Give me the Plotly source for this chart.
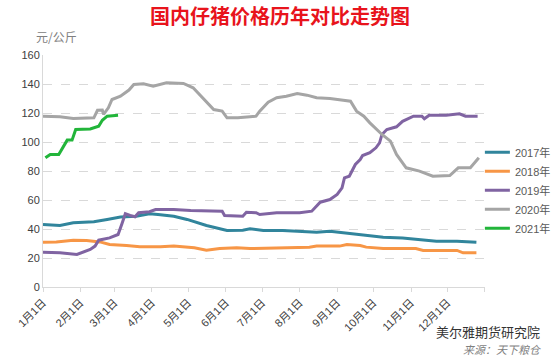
import plotly.graph_objects as go

# Day-of-year positions (0 = Jan 1) and prices (元/公斤)
days_2017 = [0, 14, 25, 42, 53, 64, 77, 88, 95, 108, 119, 127, 135, 152, 165, 171, 182, 198, 212, 226, 237, 248, 262, 281, 297, 314, 325, 342, 358]
vals_2017 = [43.1, 42.4, 44.3, 45.0, 46.6, 48.2, 48.8, 50.5, 50.0, 48.8, 46.6, 44.7, 42.4, 39.0, 39.2, 40.1, 39.0, 39.0, 38.5, 37.8, 38.5, 37.4, 35.7, 34.3, 33.8, 32.3, 31.6, 31.6, 30.9]

days_2018 = [0, 11, 25, 36, 47, 55, 69, 80, 97, 108, 125, 135, 146, 160, 171, 198, 220, 226, 245, 251, 262, 267, 281, 308, 314, 342, 347, 358]
vals_2018 = [30.9, 31.1, 32.3, 32.0, 31.1, 29.3, 28.6, 27.7, 27.7, 28.2, 27.0, 25.4, 26.5, 27.0, 26.5, 27.0, 27.5, 28.2, 28.2, 29.3, 28.6, 27.5, 26.5, 26.5, 25.2, 25.2, 23.6, 23.6]

days_2019 = [0, 14, 28, 39, 43, 46, 55, 62, 65, 68, 72, 76, 79, 88, 93, 108, 122, 141, 148, 150, 165, 168, 176, 179, 193, 212, 222, 229, 237, 243, 247, 249, 253, 258, 262, 264, 270, 275, 278, 280, 284, 292, 297, 306, 313, 315, 319, 333, 344, 349, 359]
vals_2019 = [24.0, 23.6, 22.4, 25.9, 28.2, 32.3, 33.9, 36.2, 43.1, 50.5, 49.3, 48.4, 51.2, 51.9, 53.4, 53.4, 52.8, 52.3, 52.3, 49.3, 48.8, 51.6, 51.2, 50.0, 51.2, 51.2, 52.3, 58.5, 60.3, 63.8, 68.4, 75.3, 76.4, 84.5, 87.9, 90.7, 92.6, 96.0, 99.4, 105.2, 108.6, 110.5, 114.3, 117.8, 117.8, 116.0, 118.5, 118.5, 119.4, 117.8, 117.8]

days_2020 = [0, 14, 25, 42, 45, 49, 50, 54, 57, 64, 71, 75, 83, 91, 102, 116, 124, 133, 138, 141, 148, 152, 161, 176, 179, 186, 193, 201, 210, 218, 226, 237, 248, 254, 259, 265, 270, 280, 287, 292, 300, 311, 322, 336, 343, 353, 360]
vals_2020 = [117.8, 117.4, 116.2, 116.7, 121.9, 122.0, 119.0, 123.6, 129.3, 131.6, 135.8, 139.7, 140.1, 138.5, 140.8, 140.4, 137.4, 129.3, 124.7, 122.4, 121.3, 116.7, 116.7, 117.8, 121.3, 127.5, 130.5, 131.6, 133.4, 132.3, 130.5, 130.0, 128.8, 128.1, 121.3, 117.8, 113.2, 105.2, 100.6, 91.4, 82.2, 79.9, 76.4, 76.9, 82.2, 82.2, 89.1]

days_2021 = [2, 6, 13, 16, 20, 24, 27, 39, 46, 49, 53, 62]
vals_2021 = [89.1, 91.4, 91.4, 96.0, 101.3, 101.3, 108.6, 109.0, 110.9, 115.0, 117.8, 118.5]

series_names = ["2017年", "2018年", "2019年", "2020年", "2021年"]
colors = ["#31859c", "#f79646", "#8064a2", "#a5a5a5", "#22b53a"]

month_days = [0, 31, 59, 90, 120, 151, 181, 212, 243, 273, 304, 334, 365]
month_labels = ["1月1日", "2月1日", "3月1日", "4月1日", "5月1日", "6月1日",
                "7月1日", "8月1日", "9月1日", "10月1日", "11月1日", "12月1日", ""]

y_ticks = [0, 20, 40, 60, 80, 100, 120, 140, 160]

FONT = "Liberation Sans, Noto Sans CJK SC, sans-serif"

fig = go.Figure()
data = [(days_2017, vals_2017), (days_2018, vals_2018), (days_2019, vals_2019),
        (days_2020, vals_2020), (days_2021, vals_2021)]
for (dx, vy), name, c in zip(data, series_names, colors):
    fig.add_trace(go.Scatter(x=dx, y=vy, mode="lines", name=name,
                             line=dict(color=c, width=3)))

fig.update_layout(
    width=551, height=359,
    margin=dict(l=43, r=66, t=55, b=72),
    paper_bgcolor="white", plot_bgcolor="white",
    font=dict(family=FONT, size=11, color="#404040"),
    showlegend=True,
    legend=dict(xref="container", yref="container", x=0.88, y=0.47,
                xanchor="left", yanchor="middle", indentation=-10,
                font=dict(size=11, color="#595959"), tracegroupgap=0,
                itemwidth=30, bgcolor="rgba(0,0,0,0)"),
    title=dict(text="<b>国内仔猪价格历年对比走势图</b>", x=0.508, xanchor="center",
               y=0.952, yanchor="middle",
               font=dict(family="Noto Sans CJK SC", size=20, color="#e8141c")),
)

fig.update_xaxes(range=[0, 365], tickvals=month_days, ticktext=month_labels,
                 tickangle=-45, ticks="outside", ticklen=4, tickcolor="#d9d9d9",
                 showline=True, linecolor="#d9d9d9", linewidth=1,
                 showgrid=False, zeroline=False, automargin=False,
                 tickfont=dict(size=11, color="#404040"))
fig.update_yaxes(range=[0, 160], tickvals=y_ticks, showgrid=True,
                 gridcolor="#d9d9d9", griddash="dash", gridwidth=1,
                 showline=True, linecolor="#d9d9d9", zeroline=False, automargin=False,
                 tickfont=dict(size=11, color="#404040"))

fig.add_annotation(text="元/公斤", xref="paper", yref="paper", x=-0.02, y=1.08,
                   xanchor="left", yanchor="middle", showarrow=False,
                   font=dict(family="Noto Sans CJK SC", size=12, color="#808080"))
fig.add_annotation(
    text=("美尔雅期货研究院<br><i><span style='font-size:11px;color:#7f7f7f'>"
          "来源：天下粮仓</span></i>"),
    xref="paper", yref="paper", x=1.13, y=-0.306,
    xanchor="right", yanchor="bottom", align="right", showarrow=False, borderpad=0,
    font=dict(family="Noto Sans CJK SC", size=13, color="#333333"))

fig.write_html("out.html", config={"displayModeBar": False},
               post_script="document.body.style.margin='0';")
